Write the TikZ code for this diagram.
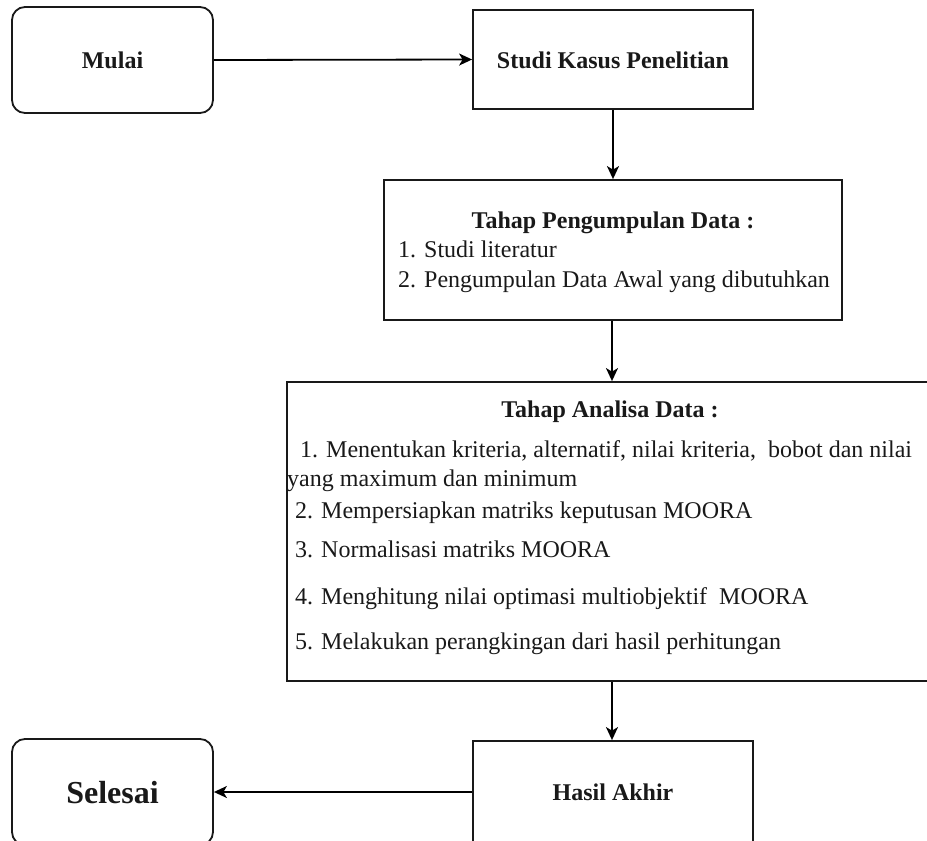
\documentclass[tikz,border=0pt]{standalone}
\usepackage{fontspec}
\setmainfont{Liberation Serif}
\usetikzlibrary{arrows.meta}
\begin{document}
\begin{tikzpicture}[x=1pt,y=-1pt,
  box/.style={draw=black!90, line width=1.8pt, inner sep=0pt},
  term/.style={box, rounded corners=13pt},
  txt/.style={inner sep=0pt, font=\fontsize{24}{28}\selectfont, text=black!90},
  btxt/.style={txt, font=\fontsize{24}{28}\selectfont\bfseries},
  conn/.style={draw=black, line width=1.8pt, -{Stealth[length=13pt,width=12pt,inset=3.5pt]}}]
\useasboundingbox (0,0) rectangle (927,841);
\begin{scope}
\clip (0,0) rectangle (927,841);
% boxes
\node[term, minimum width=201pt, minimum height=106pt] (mulai) at (112.5,60) {};
\node[box, minimum width=280pt, minimum height=99pt] (studi) at (613,59.5) {};
\node[box, minimum width=458pt, minimum height=140pt] (kumpul) at (613,250) {};
\node[box, minimum width=650pt, minimum height=299pt] (analisa) at (612,531.5) {};
\node[box, minimum width=280pt, minimum height=102pt] (hasil) at (613,792) {};
\node[term, minimum width=201pt, minimum height=106pt] (selesai) at (112.5,792) {};
% texts
\node[btxt, anchor=base] (tmulai) at (112.5,68) {Mulai};
\node[btxt, anchor=base] (tstudi) at (613,68) {Studi Kasus Penelitian};
\node[btxt, anchor=base] (tk0) at (613,228) {Tahap Pengumpulan Data :};
\node[txt, anchor=base west] (tk1) at (398,257) {1. Studi literatur};
\node[txt, anchor=base west] (tk2) at (398,287) {2. Pengumpulan Data Awal yang dibutuhkan};
\node[btxt, anchor=base] (ta0) at (610,417) {Tahap Analisa Data :};
\node[txt, anchor=base west] (ta1) at (300,457) {1. Menentukan kriteria, alternatif, nilai kriteria,\hspace{0.5em}bobot dan nilai};
\node[txt, anchor=base west] (ta1b) at (287,486) {yang maximum dan minimum};
\node[txt, anchor=base west] (ta2) at (295,518) {2. Mempersiapkan matriks keputusan MOORA};
\node[txt, anchor=base west] (ta3) at (295,557) {3. Normalisasi matriks MOORA};
\node[txt, anchor=base west] (ta4) at (295,604) {4. Menghitung nilai optimasi multiobjektif\hspace{0.5em}MOORA};
\node[txt, anchor=base west] (ta5) at (295,649) {5. Melakukan perangkingan dari hasil perhitungan};
\node[btxt, anchor=base] (thasil) at (613,800) {Hasil Akhir};
\node[btxt, anchor=base, font=\fontsize{32}{36}\selectfont\bfseries] (tselesai) at (112.5,803) {Selesai};
% connectors
\draw[conn] (mulai.east) -- (studi.west);
\draw[conn] (studi.south) -- (kumpul.north);
\draw[conn] (kumpul.south -| analisa.north) -- (analisa.north);
\draw[conn] (analisa.south) -- (hasil.north -| analisa.south);
\draw[conn] (hasil.west) -- (selesai.east);
\end{scope}
\end{tikzpicture}
\end{document}
